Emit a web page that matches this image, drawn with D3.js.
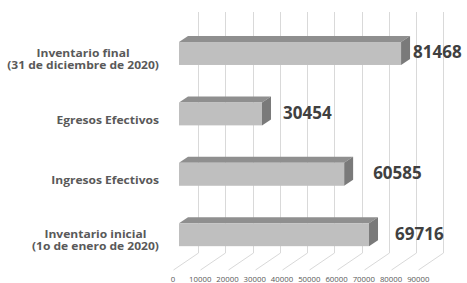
<!DOCTYPE html>
<html lang="es">
<head>
<meta charset="utf-8">
<title>Inventario 2020</title>
<script src="https://cdn.jsdelivr.net/npm/d3@7"></script>
<style>
  body { margin: 0; background: #fff; }
  svg { display: block; font-family: "Open Sans", "Liberation Sans", Arial, sans-serif; }
</style>
</head>
<body>
<svg id="chart" width="467" height="283"></svg>
<script>
// data, top to bottom as in the chart
var categories = [
  ["Inventario final", "(31 de diciembre de 2020)"],
  ["Egresos Efectivos"],
  ["Ingresos Efectivos"],
  ["Inventario inicial", "(1o de enero de 2020)"]
];
var values = [81468, 30454, 60585, 69716];
var tickValues = [0, 10000, 20000, 30000, 40000, 50000, 60000, 70000, 80000, 90000];

// label nudges (Excel placed them by hand)
var labelGap = [12, 21, 29, 26];

var svg = d3.select("#chart");

// back wall scale and floor depth
var x = d3.scaleLinear().domain([0, 90000]).range([198, 443.3]);
var depth = {dx: -25, dy: 17};
var wallTop = 12, wallBottom = 253;

var y = d3.scaleBand()
    .domain(d3.range(categories.length))
    .range([23.3, 264.9])
    .paddingInner(0.62)
    .paddingOuter(0.31);

// gridlines: wall + floor
var grid = svg.append("g").attr("stroke", "#d9d9d9").attr("stroke-width", 1).attr("fill", "none");
grid.selectAll("path").data(tickValues).enter().append("path")
  .attr("d", function(d) {
    var gx = Math.round(x(d)) + 0.5;
    return "M" + gx + "," + wallTop + "V" + wallBottom + "l" + depth.dx + "," + depth.dy;
  });

// bars (3d box)
var barOff = -19;            // front face offset from back wall
var bd = {dx: 9, dy: -6};    // bar depth
var x0 = x(0) + barOff;

var bars = svg.append("g").selectAll("g").data(values).enter().append("g");

bars.append("path") // top
  .attr("fill", "#8f8f8f")
  .attr("d", function(d, i) {
    var x1 = x0 + x(d) - x(0), t = y(i);
    return "M" + x0 + "," + t + "L" + (x0 + bd.dx) + "," + (t + bd.dy) +
      "L" + (x1 + bd.dx) + "," + (t + bd.dy) + "L" + x1 + "," + t + "Z";
  });

bars.append("path") // side
  .attr("fill", "#7a7a7a")
  .attr("d", function(d, i) {
    var x1 = x0 + x(d) - x(0), t = y(i), b = t + y.bandwidth();
    return "M" + x1 + "," + t + "L" + (x1 + bd.dx) + "," + (t + bd.dy) +
      "L" + (x1 + bd.dx) + "," + (b + bd.dy) + "L" + x1 + "," + b + "Z";
  });

bars.append("rect") // front
  .attr("fill", "#bfbfbf")
  .attr("x", x0)
  .attr("y", function(d, i) { return y(i); })
  .attr("width", function(d) { return x(d) - x(0); })
  .attr("height", y.bandwidth());

// value labels
svg.append("g").selectAll("text").data(values).enter().append("text")
  .attr("x", function(d, i) { return x0 + x(d) - x(0) + labelGap[i]; })
  .attr("y", function(d, i) { return y(i) + y.bandwidth() / 2 - 1; })
  .attr("dy", "0.35em")
  .attr("font-size", 17)
  .attr("font-weight", "bold")
  .attr("fill", "#404040")
  .text(function(d) { return d; });

// category labels - centred lines, block right edge at 159, a bit stretched like the source
var sx = 1.17;
var cat = svg.append("g").selectAll("text").data(categories).enter().append("text")
  .attr("text-anchor", "middle")
  .attr("font-size", 10.3)
  .attr("font-weight", "bold")
  .attr("fill", "#595959");

cat.selectAll("tspan").data(function(d) { return d; }).enter().append("tspan")
  .attr("x", 0)
  .attr("y", function(d, j, nodes) { return (j - (nodes.length - 1) / 2) * 12; })
  .attr("dy", "0.35em")
  .text(function(d) { return d; });

cat.attr("transform", function(d, i) {
  var w = d3.max(d3.select(this).selectAll("tspan").nodes(), function(n) { return n.getComputedTextLength(); });
  return "translate(" + (159 - w * sx / 2) + "," + (y(i) + y.bandwidth() / 2 + 6) + ") scale(" + sx + ",1)";
});

// tick labels at front edge of floor
svg.append("g").selectAll("text").data(tickValues).enter().append("text")
  .attr("x", function(d) { return x(d) + depth.dx; })
  .attr("y", 279)
  .attr("dy", "0.35em")
  .attr("text-anchor", "middle")
  .attr("font-size", 7.8)
  .attr("fill", "#595959")
  .text(function(d) { return d; });
</script>
</body>
</html>
